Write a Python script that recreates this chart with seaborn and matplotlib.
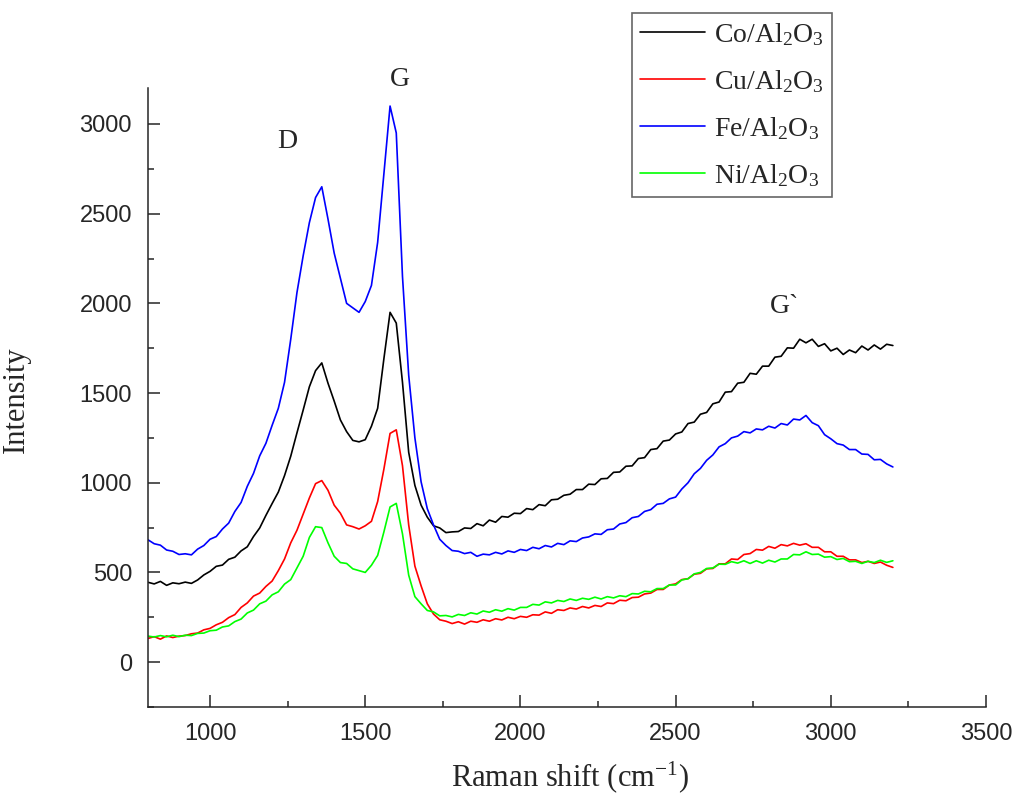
import numpy as np
import pandas as pd
import matplotlib
matplotlib.use('Agg')
import matplotlib.pyplot as plt
from matplotlib.ticker import MultipleLocator
import seaborn as sns

# Raman shift grid (cm-1), 20 cm-1 step
shift = np.arange(800, 3201, 20)

# Intensities
co = [445, 436, 450, 428, 442, 437, 446, 439, 458, 486,
      506, 534, 541, 573, 585, 620, 643, 700, 748, 818,
      884, 948, 1040, 1148, 1278, 1405, 1535, 1625, 1668, 1555,
      1455, 1350, 1285, 1236, 1228, 1240, 1315, 1415, 1690, 1950,
      1890, 1560, 1170, 985, 875, 808, 760, 748, 722, 726,
      728, 748, 745, 772, 760, 792, 780, 812, 808, 830,
      828, 856, 850, 878, 872, 905, 908, 930, 936, 962,
      962, 992, 990, 1022, 1024, 1058, 1060, 1092, 1094, 1135,
      1140, 1185, 1190, 1232, 1238, 1272, 1283, 1330, 1338, 1382,
      1392, 1440, 1450, 1505, 1508, 1555, 1560, 1610, 1605, 1650,
      1650, 1700, 1705, 1752, 1750, 1800, 1780, 1800, 1760, 1775,
      1735, 1750, 1715, 1740, 1725, 1762, 1740, 1768, 1745, 1772,
      1765]
cu = [132, 142, 128, 146, 137, 145, 148, 158, 162, 180,
      188, 208, 222, 248, 265, 305, 330, 368, 385, 422,
      452, 510, 575, 665, 735, 825, 915, 995, 1012, 958,
      875, 830, 765, 755, 742, 760, 785, 895, 1075, 1275,
      1295, 1095, 765, 535, 425, 325, 268, 236, 228, 215,
      225, 212, 228, 222, 236, 228, 242, 235, 250, 242,
      255, 250, 264, 262, 280, 272, 292, 288, 302, 296,
      310, 302, 316, 310, 330, 326, 345, 342, 360, 362,
      380, 385, 405, 405, 430, 436, 460, 465, 490, 495,
      520, 522, 548, 548, 575, 572, 600, 605, 628, 624,
      645, 635, 655, 648, 662, 652, 660, 640, 640, 615,
      615, 590, 590, 570, 570, 555, 562, 550, 558, 540,
      528]
fe = [682, 660, 652, 625, 618, 600, 604, 598, 630, 650,
      685, 700, 742, 775, 840, 890, 980, 1052, 1150, 1220,
      1320, 1415, 1560, 1800, 2060, 2265, 2450, 2590, 2650, 2470,
      2280, 2140, 2000, 1975, 1950, 2010, 2100, 2340, 2720, 3100,
      2950, 2150, 1600, 1250, 1005, 855, 765, 685, 650, 622,
      618, 605, 612, 590, 602, 598, 612, 603, 620, 612,
      628, 622, 640, 632, 650, 642, 662, 655, 676, 672,
      692, 698, 715, 712, 738, 742, 770, 778, 805, 812,
      840, 850, 880, 885, 910, 920, 965, 1000, 1050, 1080,
      1125, 1155, 1200, 1218, 1250, 1260, 1285, 1278, 1300, 1295,
      1315, 1305, 1330, 1322, 1355, 1350, 1375, 1335, 1318, 1268,
      1245, 1218, 1210, 1185, 1185, 1160, 1158, 1128, 1130, 1105,
      1088]
ni = [145, 140, 148, 141, 150, 142, 150, 148, 160, 162,
      175, 178, 196, 202, 226, 240, 274, 290, 325, 340,
      375, 392, 435, 460, 525, 590, 695, 755, 750, 665,
      590, 555, 550, 520, 510, 500, 540, 595, 725, 865,
      885, 715, 485, 365, 325, 288, 280, 258, 260, 252,
      266, 260, 275, 268, 285, 278, 292, 284, 298, 290,
      305, 305, 322, 318, 336, 330, 344, 338, 352, 344,
      356, 350, 362, 352, 365, 358, 370, 365, 382, 380,
      395, 392, 410, 410, 430, 430, 458, 465, 492, 500,
      522, 525, 546, 545, 560, 552, 565, 550, 565, 552,
      568, 558, 575, 575, 600, 598, 615, 600, 602, 585,
      588, 572, 578, 560, 562, 550, 562, 555, 568, 556,
      565]

labels = [r'Co/Al$_2$O$_3$', r'Cu/Al$_2$O$_3$', r'Fe/Al$_2$O$_3$', r'Ni/Al$_2$O$_3$']
colors = ['#000000', '#ff0000', '#0000ff', '#00ff00']

frames = []
for lab, vals in zip(labels, [co, cu, fe, ni]):
    frames.append(pd.DataFrame({'shift': shift, 'intensity': vals, 'sample': lab}))
df = pd.concat(frames, ignore_index=True)

sns.set_style('ticks')
plt.rcParams['font.family'] = ['Liberation Serif', 'DejaVu Serif']
plt.rcParams['mathtext.fontset'] = 'custom'
plt.rcParams['mathtext.rm'] = 'Liberation Serif'
plt.rcParams['mathtext.it'] = 'Liberation Serif:italic'

fig = plt.figure(figsize=(10.17, 8.01), dpi=100)
ax = fig.add_axes([0.1455, 0.1174, 0.824, 0.7726])

sns.lineplot(data=df, x='shift', y='intensity', hue='sample',
             palette=dict(zip(labels, colors)), linewidth=1.2, ax=ax)

ax.set_xlim(800, 3500)
ax.set_ylim(-250, 3200)
ax.xaxis.set_major_locator(MultipleLocator(500))
ax.xaxis.set_minor_locator(MultipleLocator(250))
ax.yaxis.set_major_locator(MultipleLocator(500))
ax.yaxis.set_minor_locator(MultipleLocator(250))
ax.tick_params(which='major', direction='in', length=8.6, width=1.1, pad=11.5,
               labelsize=17, labelfontfamily='Liberation Sans')
ax.tick_params(which='minor', direction='in', length=4.3, width=1.1)
for s in ['top', 'right']:
    ax.spines[s].set_visible(False)
for s in ['left', 'bottom']:
    ax.spines[s].set_linewidth(1.1)

ax.set_xlabel(r'Raman shift (cm$^{-1}$)', fontsize=22)
ax.set_ylabel('Intensity', fontsize=22)
ax.xaxis.set_label_coords(0.504, -0.085)
ax.yaxis.set_label_coords(-0.14, 0.496)

ax.text(1250, 2900, 'D', fontsize=20, ha='center', va='center')
ax.text(1610, 3250, 'G', fontsize=20, ha='center', va='center')
ax.text(2850, 1980, 'G`', fontsize=20, ha='center', va='center')

h, l = ax.get_legend_handles_labels()
leg = ax.legend(h, l, loc='upper left', bbox_to_anchor=(0.621, 0.984),
                bbox_transform=fig.transFigure, borderaxespad=0, fontsize=20,
                frameon=True, fancybox=False, handlelength=2.35, handletextpad=0.3,
                borderpad=0.3, labelspacing=0.72)
leg.get_frame().set_edgecolor('#404040')
leg.get_frame().set_linewidth(1.2)

fig.savefig('out.png', dpi=100)
